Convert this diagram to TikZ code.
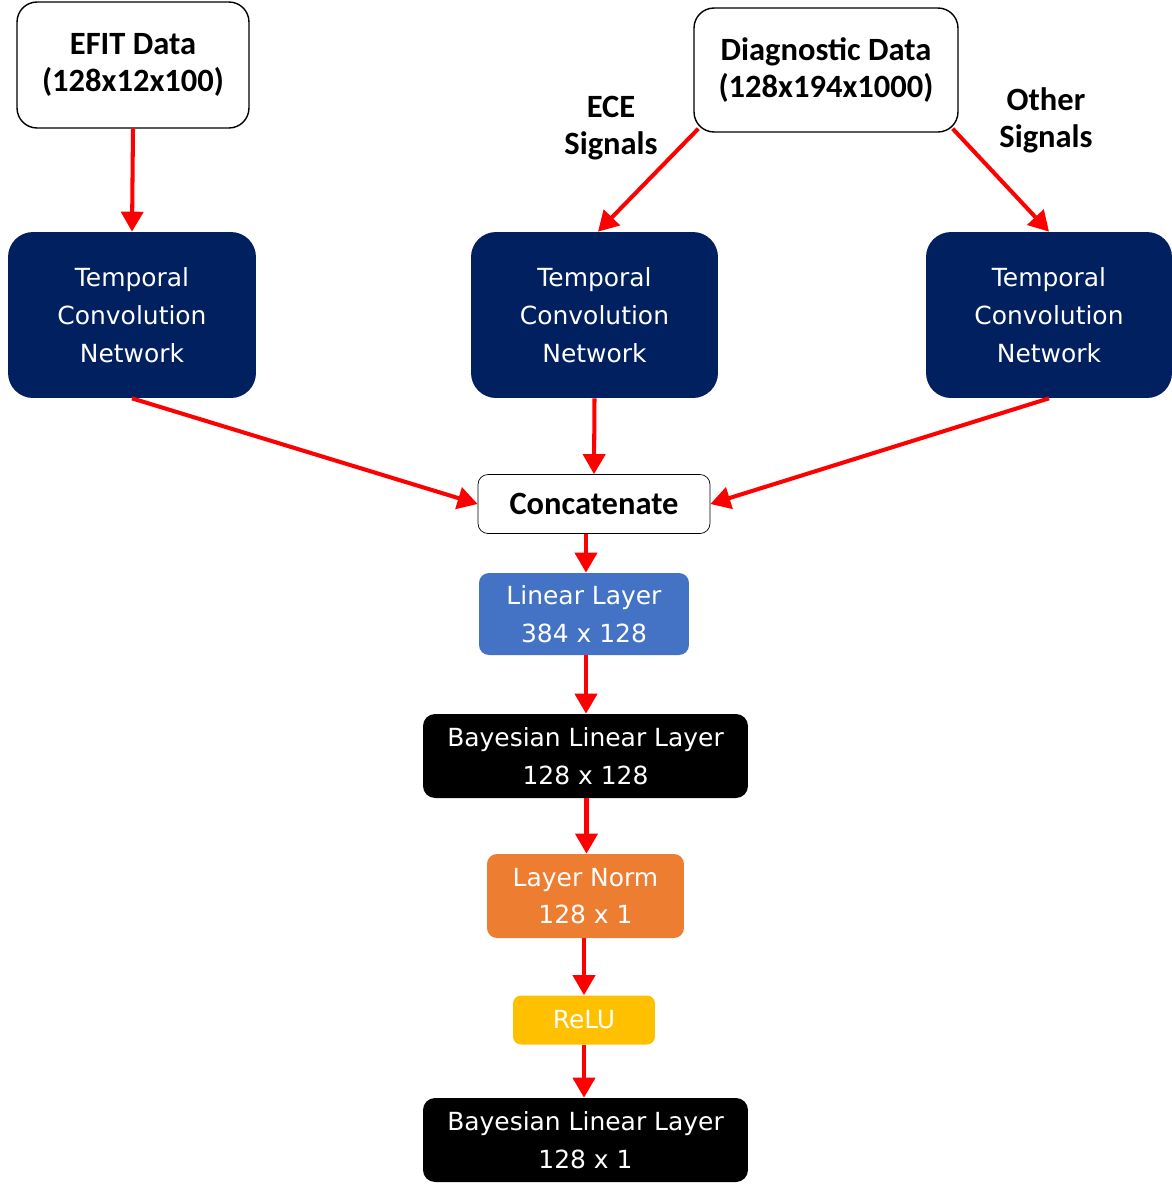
\documentclass[tikz,border=0pt]{standalone}
\usepackage{fontspec}
\setmainfont{DejaVu Sans}
\newfontfamily\labelfont{Carlito}
\usetikzlibrary{arrows.meta}

\definecolor{tcnblue}{HTML}{002060}
\definecolor{linblue}{HTML}{4472C4}
\definecolor{normorange}{HTML}{ED7D31}
\definecolor{reluyellow}{HTML}{FFC000}

\tikzset{
	layer/.style = {inner sep = 0pt, align = center, text = white,
		font = \fontsize{14.2}{21.5}\selectfont},
	datanode/.style = {draw = black, thick, fill = white, inner sep = 0pt, align = center,
		font = \labelfont\bfseries\fontsize{18.5}{21}\selectfont},
	arr/.style = {draw = red, line width = 2.3pt, -{Triangle[length = 0.4cm, width = 0.44cm]}}
}

\begin{document}
\begin{tikzpicture}[x = 0.02cm, y = -0.02cm]
	\useasboundingbox (0,0) rectangle (1172,1184);
	
	% inputs
	\node [datanode, rounded corners = 0.4cm, minimum width = 4.64cm, minimum height = 2.52cm] (efit) at (133,65) {EFIT Data\\(128x12x100)};
	\node [datanode, rounded corners = 0.4cm, minimum width = 5.28cm, minimum height = 2.48cm] (diag) at (826,70) {Diagnostic Data\\(128x194x1000)};
	
	\node [align = center, font = \labelfont\bfseries\fontsize{18.5}{21}\selectfont] (ece) at (611,128) {ECE\\Signals};
	\node [align = center, font = \labelfont\bfseries\fontsize{18.5}{21}\selectfont] (other) at (1046,120) {Other\\Signals};
	
	% temporal convolution networks
	\node [layer, fill = tcnblue, rounded corners = 0.5cm, minimum width = 4.96cm, minimum height = 3.32cm] (tcnL) at (132,315) {Temporal\\Convolution\\Network};
	\node [layer, fill = tcnblue, rounded corners = 0.5cm, minimum width = 4.94cm, minimum height = 3.32cm] (tcnM) at (594.5,315) {Temporal\\Convolution\\Network};
	\node [layer, fill = tcnblue, rounded corners = 0.5cm, minimum width = 4.92cm, minimum height = 3.32cm] (tcnR) at (1049,315) {Temporal\\Convolution\\Network};
	
	\node [datanode, thin, rounded corners = 0.2cm, minimum width = 4.64cm, minimum height = 1.18cm] (concat) at (594,504) {Concatenate};
	
	% head
	\node [layer, fill = linblue, rounded corners = 0.2cm, minimum width = 4.2cm, minimum height = 1.64cm] (lin) at (584,614) {Linear Layer\\384 x 128};
	\node [layer, fill = black, rounded corners = 0.24cm, minimum width = 6.5cm, minimum height = 1.68cm] (bay1) at (585.5,756) {Bayesian Linear Layer\\128 x 128};
	\node [layer, fill = normorange, rounded corners = 0.2cm, minimum width = 3.94cm, minimum height = 1.68cm] (norm) at (585.5,896) {Layer Norm\\128 x 1};
	\node [layer, fill = reluyellow, rounded corners = 0.16cm, minimum width = 2.84cm, minimum height = 0.98cm] (relu) at (584,1020) {ReLU};
	\node [layer, fill = black, rounded corners = 0.24cm, minimum width = 6.5cm, minimum height = 1.68cm] (bay2) at (585.5,1140) {Bayesian Linear Layer\\128 x 1};
	
	\begin{scope}[arr]
		\draw (efit.south) -- (tcnL.north);
		\draw ([xshift = 0.1cm, yshift = 0.08cm]diag.south west) -- ([xshift = 0.07cm]tcnM.north);
		\draw ([xshift = -0.12cm, yshift = 0.08cm]diag.south east) -- (tcnR.north);
		\draw (tcnL.south) -- (concat.west);
		\draw (tcnM.south) -- (concat.north);
		\draw (tcnR.south) -- (concat.east);
		\draw ([xshift = 0.04cm]concat.south -| lin.north) -- ([xshift = 0.04cm]lin.north);
		\draw ([xshift = 0.04cm]lin.south) -- ([xshift = 0.04cm]lin.south |- bay1.north);
		\draw ([xshift = 0.02cm]bay1.south) -- ([xshift = 0.02cm]norm.north);
		\draw (norm.south -| relu.north) -- (relu.north);
		\draw (relu.south) -- (relu.south |- bay2.north);
	\end{scope}
\end{tikzpicture}
\end{document}
